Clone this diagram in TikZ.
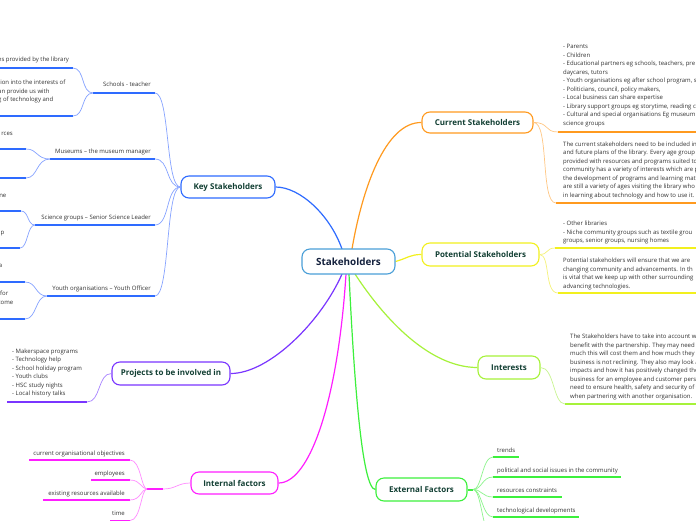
\documentclass[tikz,border=0pt]{standalone}
\usepackage{fontspec}
\setmainfont{Open Sans}
\definecolor{cblue}{HTML}{2E6BFF}
\definecolor{cbluel}{HTML}{86A3FF}
\definecolor{chub}{HTML}{4A9FD8}
\definecolor{corange}{HTML}{FF9A1F}
\definecolor{corangel}{HTML}{FFC784}
\definecolor{cyellow}{HTML}{F2F01E}
\definecolor{cyellowl}{HTML}{F5F27A}
\definecolor{clime}{HTML}{A6F23A}
\definecolor{climel}{HTML}{C8F590}
\definecolor{cgreen}{HTML}{3CF03C}
\definecolor{cgreenl}{HTML}{8CF58C}
\definecolor{cmag}{HTML}{FF1EFF}
\definecolor{cmagl}{HTML}{FF8CFF}
\definecolor{cpurp}{HTML}{7A35FF}
\definecolor{cpurpl}{HTML}{A883FF}
\definecolor{ctext}{HTML}{123F33}
\definecolor{cnavy}{HTML}{14213D}
\definecolor{cgray}{HTML}{333333}
\pgfdeclarelayer{bg}
\pgfsetlayers{bg,main}
\tikzset{
  box/.style={draw, rounded corners=8pt, fill=white, line width=1.1pt, text=ctext,
    font=\fontsize{8}{9}\selectfont\bfseries, inner sep=0pt},
  hubbox/.style={box, draw=chub, text=cnavy, font=\fontsize{9.9}{11}\selectfont\bfseries},
  sub/.style={font=\fontsize{6}{8.5}\selectfont, text=cgray, inner sep=0pt},
  blk/.style={sub, align=left, anchor=north west},
  uline/.style={line width=2pt},
  mainconn/.style={line width=1.2pt},
  subconn/.style={line width=0.7pt}
}
\begin{document}
\begin{tikzpicture}[x=1pt,y=-1pt]
\useasboundingbox (0,0) rectangle (696,520);
\clip (0,0) rectangle (696,520);

% ---------- boxes
\node[hubbox, minimum width=93pt, minimum height=25pt] (c) at (348.5,261.5) {Stakeholders};
\node[box, draw=cblue, minimum width=94pt, minimum height=22pt] (key) at (228,187) {Key Stakeholders};
\node[box, draw=corange, minimum width=111pt, minimum height=21pt] (cur) at (477.5,122.5) {Current Stakeholders};
\node[box, draw=cyellow, minimum width=117pt, minimum height=23pt] (pot) at (480.5,254.5) {Potential Stakeholders};
\node[box, draw=clime, minimum width=62pt, minimum height=23pt] (int) at (509,367.5) {Interests};
\node[box, draw=cgreen, minimum width=91pt, minimum height=23pt] (ext) at (421.5,489.5) {External Factors};
\node[box, draw=cmag, minimum width=87pt, minimum height=22pt] (inf) at (234.5,483) {Internal factors};
\node[box, draw=cpurp, minimum width=118pt, minimum height=23pt] (proj) at (171,373.5) {Projects to be involved in};

\coordinate (cs1) at (342,249);
\coordinate (cs2) at (352,249);
\coordinate (cb1) at (342,274);
\coordinate (cb2) at (346,274);
\coordinate (cb3) at (349,274);
\coordinate (cb4) at (355,274);

\begin{pgfonlayer}{bg}
\fill[white] (0,0) rectangle (696,520);
\draw[mainconn, cblue] (cs1) .. controls (330,215) and (300,187) .. (key.east);
\draw[mainconn, corange] (cs2) .. controls (362,190) and (385,122) .. (cur.west);
\draw[mainconn, cyellow] (c.east) .. controls (408,258) and (410,254.5) .. (pot.west);
\draw[mainconn, clime] (cb4) .. controls (385,320) and (430,367.5) .. (int.west);
\draw[mainconn, cgreen] (cb3) .. controls (354,380) and (362,489.5) .. (ext.west);
\draw[mainconn, cmag] (cb2) .. controls (338,400) and (310,483) .. (inf.east);
\draw[mainconn, cpurp] (cb1) .. controls (322,320) and (270,373.5) .. (proj.east);
\end{pgfonlayer}

% ---------- Key stakeholders sub-branches
\node[sub, anchor=east] (k1) at (151,84) {Schools - teacher};
\node[sub, anchor=east] (k2) at (151,152) {Museums – the museum manager};
\node[sub, anchor=east] (k3) at (151,218) {Science groups – Senior Science Leader};
\node[sub, anchor=east] (k4) at (151,288.5) {Youth organisations – Youth Officer};
\coordinate (k1l) at (93,93);  \coordinate (k1r) at (155,93);
\coordinate (k2l) at (50,159); \coordinate (k2r) at (155,159);
\coordinate (k3l) at (35,225); \coordinate (k3r) at (155,225);
\coordinate (k4l) at (47,296); \coordinate (k4r) at (155,296);
\foreach \k in {k1,k2,k3,k4}{
  \draw[uline, cblue] (\k l) -- (\k r);
  \draw[subconn, cbluel] (\k r) .. controls +(15,0) and +(-15,0) .. (key.west);
}

% leaves of key stakeholders (clipped on the left)
\node[sub, anchor=west] (k1a) at (-2,59.5) {es provided by the library};
\node[blk] (k1b) at (-2,80) {tion into the interests of\\an provide us with\\g of technology and};
\node[sub, anchor=east] (k2a) at (13,133.5) {rces};
\node[sub, anchor=east] (k3a) at (6.5,195.5) {ne};
\node[sub, anchor=east] (k3b) at (4.5,233.5) {p};
\node[sub, anchor=east] (k4a) at (2.5,265.5) {a};
\node[sub, anchor=east] (k4b) at (8.5,293.5) {for};
\node[sub, anchor=east] (k4c) at (13.5,303) {come};
\coordinate (l1) at (73,68);  \coordinate (l2) at (73,116);
\coordinate (l3) at (26,149); \coordinate (l4) at (26,178);
\coordinate (l5) at (21,211); \coordinate (l6) at (20,248);
\coordinate (l7) at (25,282); \coordinate (l8) at (25,319);
\foreach \p in {l1,l2,l3,l4,l5,l6,l7,l8}{ \draw[uline, cblue] (\p) -- ++(-80,0); }
\draw[subconn, cbluel] (l1) .. controls +(12,0) and +(-12,0) .. (k1l);
\draw[subconn, cbluel] (l2) .. controls +(12,0) and +(-12,0) .. (k1l);
\draw[subconn, cbluel] (l3) .. controls +(12,0) and +(-14,0) .. (k2l);
\draw[subconn, cbluel] (l4) .. controls +(12,0) and +(-14,0) .. (k2l);
\draw[subconn, cbluel] (l5) .. controls +(8,0) and +(-8,0) .. (k3l);
\draw[subconn, cbluel] (l6) .. controls +(8,0) and +(-8,0) .. (k3l);
\draw[subconn, cbluel] (l7) .. controls +(12,0) and +(-12,0) .. (k4l);
\draw[subconn, cbluel] (l8) .. controls +(12,0) and +(-12,0) .. (k4l);

% ---------- Projects
\node[blk] (pj) at (12,348.5) {- Makerspace programs\\- Technology help\\- School holiday program\\- Youth clubs\\- HSC study nights\\- Local history talks};
\coordinate (pjl) at (7,402); \coordinate (pjr) at (87,402);
\draw[uline, cpurp] (pjl) -- (pjr);
\draw[subconn, cpurpl] (pjr) .. controls +(14,0) and +(-14,0) .. (proj.west);

% ---------- Internal factors
\coordinate (ij1) at (147,489); \coordinate (ij2) at (163,489);
\draw[subconn, cmagl] (inf.west) .. controls +(-13,0) and +(13,0) .. (ij2);
\draw[uline, cmag] (ij1) -- (ij2);
\node[sub, anchor=east] (i1) at (125,453.5) {current organisational objectives};
\node[sub, anchor=east] (i2) at (125,473.5) {employees};
\node[sub, anchor=east] (i3) at (125,493.5) {existing resources available};
\node[sub, anchor=east] (i4) at (125,513.5) {time};
\coordinate (i1l) at (29,460);  \coordinate (i1r) at (130,460);
\coordinate (i2l) at (91,480);  \coordinate (i2r) at (130,480);
\coordinate (i3l) at (43,500);  \coordinate (i3r) at (130,500);
\coordinate (i4l) at (110,520.5); \coordinate (i4r) at (130,520.5);
\foreach \k in {i1,i2,i3,i4}{
  \draw[uline, cmag] (\k l) -- (\k r);
  \draw[subconn, cmagl] (\k r) .. controls +(11,0) and +(-6,0) .. (ij1);
}

% ---------- External factors
\coordinate (ej) at (473,489.5);
\draw[uline, cgreen] (ext.east) -- (ej);
\node[sub, anchor=west] (e1) at (497,450.5) {trends};
\node[sub, anchor=west] (e2) at (497,470.5) {political and social issues in the community};
\node[sub, anchor=west] (e3) at (497,490.5) {resources constraints};
\node[sub, anchor=west] (e4) at (497,510.5) {technological developments};
\coordinate (e1l) at (493,457); \coordinate (e1r) at (519,457);
\coordinate (e2l) at (493,477); \coordinate (e2r) at (621,477);
\coordinate (e3l) at (493,497); \coordinate (e3r) at (562,497);
\coordinate (e4l) at (493,517); \coordinate (e4r) at (579,517);
\coordinate (e5l) at (493,537);
\foreach \k in {e1,e2,e3,e4}{ \draw[uline, cgreen] (\k l) -- (\k r); }
\foreach \k in {e1l,e2l,e3l,e4l,e5l}{
  \draw[subconn, cgreenl] (ej) .. controls +(9,0) and +(-11,0) .. (\k);
}

% ---------- Current stakeholders
\node[blk] (cu1) at (563,44.5) {- Parents\\- Children\\- Educational partners eg schools, teachers, pre\\daycares, tutors\\- Youth organisations eg after school program, s\\- Politicians, council, policy makers,\\- Local business can share expertise\\- Library support groups eg storytime, reading cl\\- Cultural and special organisations Eg museum\\science groups};
\node[blk] (cu2) at (563,141.5) {The current stakeholders need to be included in\\and future plans of the library. Every age group s\\provided with resources and programs suited to\\community has a variety of interests which are p\\the development of programs and learning mate\\are still a variety of ages visiting the library who\\in learning about technology and how to use it.};
\coordinate (cu1l) at (558,132); \coordinate (cu2l) at (556,203);
\draw[uline, corange] (cu1l) -- (700,132);
\draw[uline, corange] (cu2l) -- (700,203);
\draw[subconn, corangel] (cur.east) .. controls +(16,0) and +(-14,0) .. (cu1l);
\draw[subconn, corangel] (cur.east) .. controls +(16,0) and +(-16,0) .. (cu2l);

% ---------- Potential stakeholders
\node[blk] (po1) at (563,221) {- Other libraries\\- Niche community groups such as textile grou\\groups, senior groups, nursing homes};
\node[blk] (po2) at (563,258) {Potential stakeholders will ensure that we are\\changing community and advancements. In th\\is vital that we keep up with other surrounding\\advancing technologies.};
\coordinate (po1l) at (555,248); \coordinate (po2l) at (558,293);
\draw[uline, cyellow] (po1l) -- (700,248);
\draw[uline, cyellow] (po2l) -- (700,293);
\draw[subconn, cyellowl] (pot.east) .. controls +(9,0) and +(-9,0) .. (po1l);
\draw[subconn, cyellowl] (pot.east) .. controls +(11,0) and +(-14,0) .. (po2l);

% ---------- Interests
\node[blk] (in1) at (570,334) {The Stakeholders have to take into account w\\benefit with the partnership. They may need t\\much this will cost them and how much they w\\business is not reclining. They also may look a\\impacts and how it has positively changed the\\business for an employee and customer persp\\need to ensure health, safety and security of t\\when partnering with another organisation.};
\coordinate (in1l) at (565,404);
\draw[uline, clime] (in1l) -- (700,404);
\draw[subconn, climel] (int.east) .. controls +(14,0) and +(-12,0) .. (in1l);
\end{tikzpicture}
\end{document}
